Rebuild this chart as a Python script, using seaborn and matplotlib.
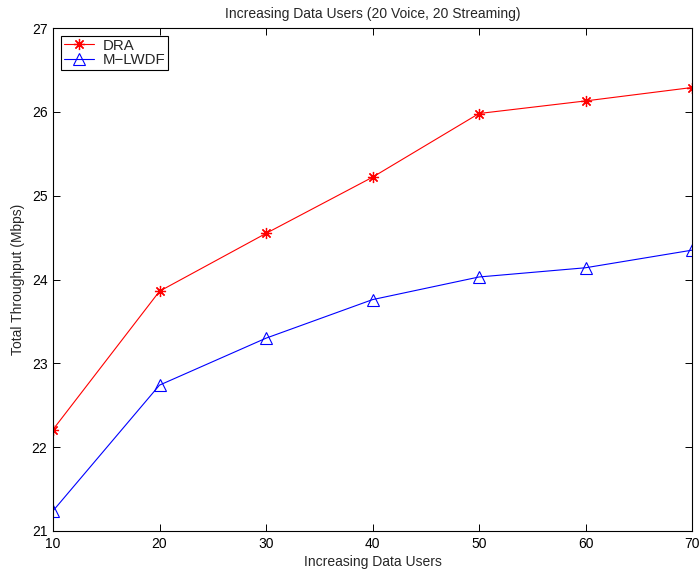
import matplotlib
matplotlib.use("Agg")
import matplotlib.pyplot as plt
import seaborn as sns
import pandas as pd

data_users = [10, 20, 30, 40, 50, 60, 70]
dra = [22.21, 23.86, 24.55, 25.22, 25.98, 26.13, 26.29]
mlwdf = [21.24, 22.74, 23.30, 23.76, 24.03, 24.14, 24.35]
x_ticks = [10, 20, 30, 40, 50, 60, 70]
y_ticks = [21, 22, 23, 24, 25, 26, 27]

sns.set_style("ticks")
plt.rcParams.update({
    "font.family": ["Liberation Sans", "DejaVu Sans"],
    "font.size": 10,
    "xtick.direction": "in",
    "ytick.direction": "in",
    "xtick.top": True,
    "xtick.bottom": True,
    "ytick.left": True,
    "ytick.right": True,
    "xtick.major.size": 5,
    "ytick.major.size": 5,
    "xtick.major.width": 0.7,
    "ytick.major.width": 0.7,
    "xtick.color": "black",
    "ytick.color": "black",
})

asterisk = (8, 2, 0)

df = pd.DataFrame({
    "users": data_users * 2,
    "throughput": dra + mlwdf,
    "scheme": ["DRA"] * len(dra) + ["M\u2212LWDF"] * len(mlwdf),
})

fig = plt.figure(figsize=(6.99, 5.73), dpi=100)
ax = fig.add_axes([53 / 699, 42 / 573, 639 / 699, 503 / 573])

sns.lineplot(data=df, x="users", y="throughput", hue="scheme", style="scheme",
             palette={"DRA": "#ff0000", "M\u2212LWDF": "#0000ff"},
             markers={"DRA": "*", "M\u2212LWDF": "^"}, dashes=False,
             linewidth=0.8, ax=ax, legend=True)


def style_marker(line):
    c = line.get_color()
    line.set_linewidth(0.8)
    if line.get_marker() == "^":
        line.set_markersize(8)
        line.set_markerfacecolor("none")
        line.set_markeredgecolor(c)
        line.set_markeredgewidth(0.8)
    elif line.get_marker() == "*":
        line.set_marker(asterisk)
        line.set_markersize(8)
        line.set_markerfacecolor(c)
        line.set_markeredgecolor(c)
        line.set_markeredgewidth(0.9)


for line in list(ax.lines):
    style_marker(line)

ax.set_xlim(10, 70)
ax.set_ylim(21, 27)
ax.set_xticks(x_ticks)
ax.set_yticks(y_ticks)
ax.tick_params(which="major", direction="in", length=5, width=0.7,
               bottom=True, left=True, top=True, right=True,
               labelsize=10, colors="black", pad=4)
for s in ax.spines.values():
    s.set_visible(True)
    s.set_color("black")
    s.set_linewidth(0.8)

ax.set_xlabel("Increasing Data Users", fontsize=10, labelpad=3)
ax.set_ylabel("Total Throughput (Mbps)", fontsize=10, labelpad=5)
ax.set_title("Increasing Data Users (20 Voice, 20 Streaming)", fontsize=10, pad=7)

handles, labels = ax.get_legend_handles_labels()
for h in handles:
    style_marker(h)
leg = ax.legend(handles, labels, loc="upper left", fontsize=10.8, frameon=True,
                fancybox=False, edgecolor="black", framealpha=1,
                borderpad=0.2, labelspacing=0.05, handlelength=2.0,
                handletextpad=0.6, borderaxespad=0.5)
leg.get_frame().set_linewidth(0.8)

fig.savefig("out.png", dpi=100)
